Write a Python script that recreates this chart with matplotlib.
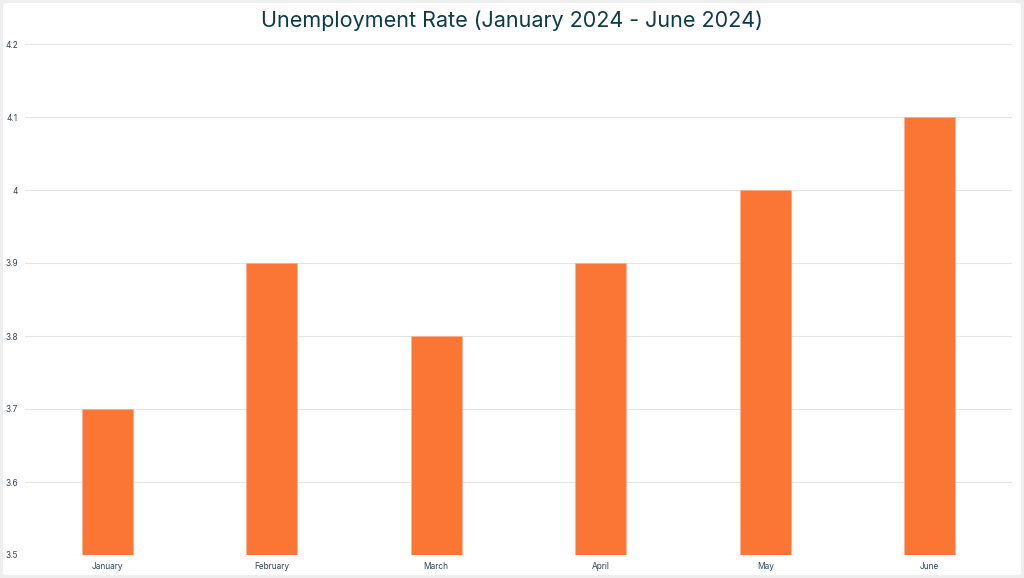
import matplotlib.pyplot as plt
from matplotlib.patches import FancyBboxPatch

months = ['January', 'February', 'March', 'April', 'May', 'June']
rates = [3.7, 3.9, 3.8, 3.9, 4.0, 4.1]
y_ticks = [3.5, 3.6, 3.7, 3.8, 3.9, 4.0, 4.1, 4.2]
y_labels = ['3.5', '3.6', '3.7', '3.8', '3.9', '4', '4.1', '4.2']

plt.rcParams['font.family'] = ['Inter', 'DejaVu Sans']

fig = plt.figure(figsize=(10.24, 5.78), dpi=100)
fig.patch.set_facecolor('#eeeeee')
bg = FancyBboxPatch((3 / 1024, 3 / 578), 1 - 6 / 1024, 1 - 6 / 578,
                    boxstyle='round,pad=0,rounding_size=0.004',
                    transform=fig.transFigure, facecolor='white',
                    edgecolor='none', zorder=-10)
fig.add_artist(bg)

ax = fig.add_axes([25 / 1024, 1 - 555 / 578, 987 / 1024, 511 / 578])
ax.set_facecolor('none')

x = range(len(months))
ax.bar(x, rates, width=0.31, color='#fb7634', edgecolor='#fdb08a',
       linewidth=0.4, zorder=3)

ax.set_xlim(-0.5, len(months) - 0.5)
ax.set_ylim(3.5, 4.2)
ax.set_yticks(y_ticks)
ax.set_yticklabels(y_labels)
ax.set_xticks(list(x))
ax.set_xticklabels(months)
ax.grid(axis='y', color='#e6e6e6', linewidth=0.8, zorder=0)
ax.tick_params(axis='both', length=0, labelsize=6, colors='#34444f')
ax.tick_params(axis='y', pad=5)
ax.tick_params(axis='x', pad=5)
for s in ax.spines.values():
    s.set_visible(False)

fig.text(0.5, 1 - 21 / 578, 'Unemployment Rate (January 2024 - June 2024)',
         ha='center', va='center', fontsize=15.5, color='#0d3b48')

plt.savefig('out.png', dpi=100)
